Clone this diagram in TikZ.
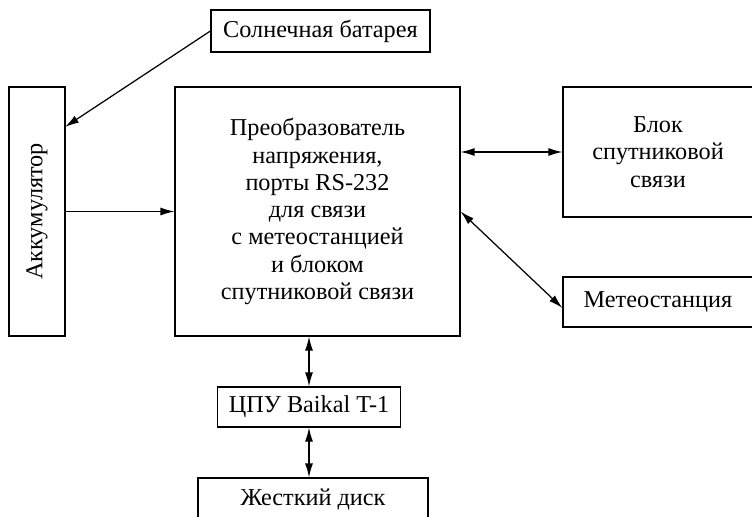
\documentclass[tikz,border=0pt]{standalone}
\usepackage{fontspec}
\setmainfont{Liberation Serif}
\usepackage{tikz}
\usetikzlibrary{arrows,arrows.meta,positioning}

\begin{document}
\begin{tikzpicture}[
x=0.02cm, y=-0.02cm,
font=\fontsize{13.8}{15.5}\selectfont,
block/.style={draw,line width=0.7pt,align=center,inner sep=0pt},
link/.style={line width=0.7pt,>={Latex[length=2.8mm,width=1.6mm]}}]
    % Frame
    \path[use as bounding box] (0,0) rectangle (752,517);
    \clip (0,0) rectangle (752,517);

    % Blocks
    \node[block,minimum width=4.38cm,minimum height=0.84cm] (solar) at (320.5,31) {Солнечная батарея};
    \node[block,minimum width=1.12cm,minimum height=4.98cm] (akk) at (37,211.5) {\rotatebox{90}{Аккумулятор}};
    \node[block,minimum width=5.7cm,minimum height=4.98cm] (main) at (317.5,211.5)
        {Преобразователь\\напряжения,\\порты RS-232\\для связи\\с метеостанцией\\и блоком\\спутниковой связи};
    \node[block,minimum width=3.8cm,minimum height=2.6cm] (sat) at (658,152) {Блок\\спутниковой\\связи};
    \node[block,minimum width=3.8cm,minimum height=1.0cm] (meteo) at (658,302) {Метеостанция};
    \node[block,minimum width=3.66cm,minimum height=0.8cm] (cpu) at (309,407) {ЦПУ Baikal T-1};
    \node[block,minimum width=4.6cm,minimum height=0.88cm] (disk) at (313,500) {Жесткий диск};

    \coordinate (akkin) at (65,127);

    % Links
    \draw[link,->] (solar.west) -- (akkin);
    \draw[link,->] (akk.east) -- (main.west);
    \draw[link,<->] (main.east |- sat.west) -- (sat.west);
    \draw[link,<->] (main.east) -- ([yshift=-0.12cm]meteo.west);
    \draw[link,<->] (cpu.north |- main.south) -- (cpu.north);
    \draw[link,<->] (cpu.south) -- (cpu.south |- disk.north);

\end{tikzpicture}
\end{document}
